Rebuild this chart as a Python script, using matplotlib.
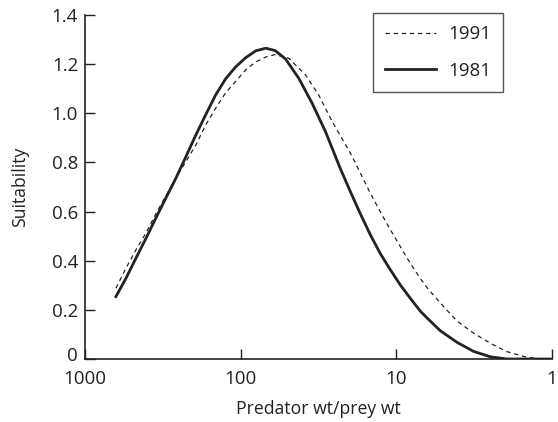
import numpy as np
import matplotlib.pyplot as plt
import matplotlib.transforms as mtransforms
from matplotlib.ticker import FixedLocator, FixedFormatter, NullLocator

plt.rcParams['font.family'] = ['Open Sans', 'DejaVu Sans']

# predator wt / prey wt ratio and suitability
ratio_1981 = [633, 546, 471, 406, 351, 303, 261, 225, 194, 168, 145, 125, 108, 93, 80, 69, 60,
              51.5, 42.3, 34.7, 28.5, 22.9, 19.7, 17.0, 14.7, 12.7, 10.9, 9.42, 8.13, 7.02,
              6.35, 5.22, 4.08, 3.19, 2.49, 1.95, 1.0]
suit_1981 = [0.254, 0.328, 0.410, 0.491, 0.573, 0.654, 0.735, 0.823, 0.912, 0.993, 1.074, 1.140,
             1.188, 1.226, 1.254, 1.265, 1.255, 1.221, 1.142, 1.040, 0.925, 0.775, 0.680, 0.590,
             0.506, 0.430, 0.362, 0.301, 0.247, 0.195, 0.167, 0.115, 0.068, 0.031, 0.009, 0.0, 0.0]

ratio_1991 = [633, 546, 471, 406, 351, 303, 261, 225, 194, 168, 145, 125, 108, 93, 80, 69, 60,
              49.0, 38.3, 31.5, 25.8, 19.7, 17.0, 14.7, 12.7, 10.9, 9.42, 8.13, 7.02, 6.35,
              4.85, 4.08, 3.19, 2.49, 1.95, 1.45, 1.19]
suit_1991 = [0.288, 0.369, 0.444, 0.513, 0.590, 0.663, 0.737, 0.803, 0.871, 0.952, 1.020, 1.083,
             1.129, 1.176, 1.209, 1.229, 1.239, 1.224, 1.156, 1.074, 0.966, 0.837, 0.756, 0.675,
             0.600, 0.525, 0.457, 0.389, 0.328, 0.290, 0.206, 0.155, 0.105, 0.064, 0.030, 0.007, 0.0]

x_ticks = [1000, 100, 10, 1]
x_labels = ['1000', '100', '10', '1']
y_ticks = [0, 0.2, 0.4, 0.6, 0.8, 1.0, 1.2, 1.4]
y_labels = ['0', '0.2', '0.4', '0.6', '0.8', '1.0', '1.2', '1.4']

fig = plt.figure(figsize=(5.58, 4.22), dpi=100)
ax = fig.add_axes([85 / 558, 63 / 422, 467 / 558, 344 / 422])

ink = '#222222'
ax.plot(ratio_1991, suit_1991, color=ink, lw=0.9, dashes=(3.5, 3.0), label='1991')
ax.plot(ratio_1981, suit_1981, color=ink, lw=2.0, label='1981', solid_joinstyle='round')

ax.set_xscale('log')
ax.set_xlim(1000, 1)
ax.set_ylim(0, 1.4)
ax.xaxis.set_major_locator(FixedLocator(x_ticks))
ax.xaxis.set_major_formatter(FixedFormatter(x_labels))
ax.xaxis.set_minor_locator(NullLocator())
ax.set_yticks(y_ticks)
ax.set_yticklabels(y_labels)

for s in ['top', 'right']:
    ax.spines[s].set_visible(False)
for s in ['left', 'bottom']:
    ax.spines[s].set_color(ink)
    ax.spines[s].set_linewidth(1.2)
ax.tick_params(direction='in', length=7, width=1.0, color=ink, labelsize=13.5, labelcolor=ink)
ax.tick_params(axis='x', pad=8)
ax.tick_params(axis='y', pad=5)

# the "0" label sits a little higher in the original
zero_lab = ax.get_yticklabels()[0]
zero_lab.set_transform(zero_lab.get_transform() +
                       mtransforms.ScaledTranslation(0, 5 / 100, fig.dpi_scale_trans))

ax.set_xlabel('Predator wt\u2215prey wt', fontsize=12.7, color=ink)
ax.xaxis.set_label_coords(0.50, -0.118)
ax.set_ylabel('Suitability', fontsize=12.7, color=ink)
ax.yaxis.set_label_coords(-0.12, 0.5)

leg = ax.legend(loc='upper right', bbox_to_anchor=(503 / 558, 1 - 13 / 422),
                bbox_transform=fig.transFigure, fontsize=13.5, handlelength=2.7,
                labelspacing=1.0, borderpad=0.65, handletextpad=0.65, fancybox=False,
                framealpha=1, borderaxespad=0)
leg.get_frame().set_edgecolor('#555555')
leg.get_frame().set_linewidth(1.0)
for t in leg.get_texts():
    t.set_color(ink)

fig.savefig('out.png', dpi=100)
